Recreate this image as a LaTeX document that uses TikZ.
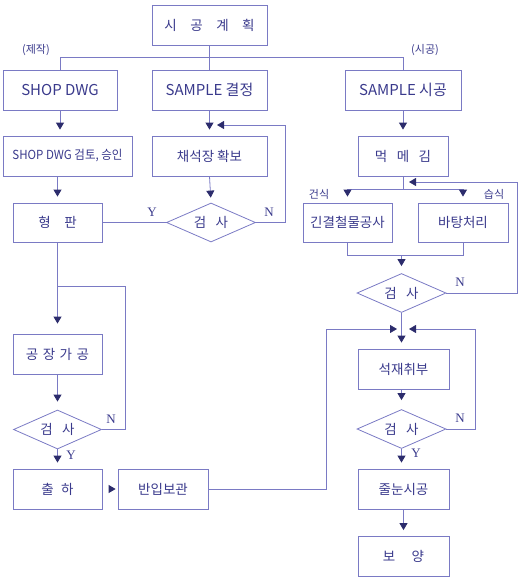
\documentclass[tikz,border=0pt]{standalone}
\usepackage{fontspec}
\setmainfont{Noto Sans CJK KR}
\newfontfamily\ynfont{Liberation Serif}
\usetikzlibrary{arrows.meta,shapes.geometric,calc}
\definecolor{ink}{HTML}{3A3A8C}
\definecolor{linec}{HTML}{7A7AC4}
\definecolor{tipc}{HTML}{2C2C6C}
\newcommand{\gA}{\hspace{0.33em}}
\newcommand{\gB}{\hspace{0.55em}}
\newcommand{\gC}{\hspace{0.7em}}
\newcommand{\gD}{\hspace{1em}}
\newcommand{\gE}{\hspace{1.2em}}
\begin{document}
\begin{tikzpicture}[x=1pt,y=-1pt,
  box/.style={draw=linec, line width=0.8pt, rectangle, inner sep=0pt, text=ink, font=\fontsize{13.5}{15}\selectfont},
  dia/.style={draw=linec, line width=0.8pt, diamond, aspect=2.3, inner sep=0pt, text=ink, font=\fontsize{13.5}{15}\selectfont, minimum width=89pt, minimum height=39pt},
  ln/.style={draw=linec, line width=0.8pt},
  arr/.style={ln, -{Triangle[width=8pt,length=7pt,color=tipc]}, shorten >=6pt},
  arrx/.style={ln, -{Triangle[width=8pt,length=7pt,color=tipc]}},
  lbl/.style={text=ink, font=\ynfont\fontsize{13}{15}\selectfont, inner sep=0pt},
  klbl/.style={text=ink, font=\fontsize{11}{12}\selectfont, inner sep=0pt}]
\useasboundingbox (0,0) rectangle (523,581);
% nodes
\node[box, minimum width=115pt, minimum height=40pt] (plan) at (209.5,25) {시\gD 공\gD 계\gD 획};
\node[box, minimum width=114pt, minimum height=40pt, font=\fontsize{15}{17}\selectfont] (shop) at (60,90) {SHOP DWG};
\node[box, minimum width=115pt, minimum height=40pt, font=\fontsize{15}{17}\selectfont] (samp) at (209.5,90) {SAMPLE 결정};
\node[box, minimum width=116pt, minimum height=40pt, font=\fontsize{15}{17}\selectfont] (sampc) at (403,90) {SAMPLE 시공};
\node[box, minimum width=129pt, minimum height=40pt, font=\fontsize{12.5}{14}\selectfont] (review) at (67.5,156) {\addfontfeatures{FakeStretch=0.92}SHOP DWG 검토, 승인};
\node[box, minimum width=115pt, minimum height=40pt] (quarry) at (209.5,156) {채석장 확보};
\node[box, minimum width=90pt, minimum height=40pt] (mark) at (403,156) {먹\gC 메\gC 김};
\node[box, minimum width=89pt, minimum height=39pt] (mold) at (57.5,222.5) {형\gD 판};
\node[dia] (chk1) at (211,222.5) {검\gC 사};
\node[box, minimum width=89pt, minimum height=39pt] (anchor) at (347.5,222.5) {긴결철물공사};
\node[box, minimum width=90pt, minimum height=39pt] (base) at (463,222.5) {바탕처리};
\node[dia] (chk2) at (401.5,293) {검\gC 사};
\node[box, minimum width=91pt, minimum height=40pt] (fix) at (403.5,369) {석재취부};
\node[dia] (chk3) at (401.5,429) {검\gC 사};
\node[box, minimum width=91pt, minimum height=40pt] (joint) at (403.5,489) {줄눈시공};
\node[box, minimum width=91pt, minimum height=40pt] (cure) at (403.5,556.5) {보\gE 양};
\node[box, minimum width=89pt, minimum height=40pt] (fac) at (57.5,354) {공\gA 장\gA 가\gA 공};
\node[dia, minimum width=88pt] (chk4) at (57.5,429.5) {검\gC 사};
\node[box, minimum width=89pt, minimum height=40pt] (ship) at (57.5,489) {출\gB 하};
\node[box, minimum width=90pt, minimum height=40pt] (store) at (163,489) {반입보관};
% labels
\node[klbl] (lmake) at (36,50) {(제작)};
\node[klbl] (lcons) at (425,50) {(시공)};
\node[klbl] (ldry) at (319,194) {건식};
\node[klbl] (lwet) at (494,194) {습식};
\node[lbl] (y1) at (152,212) {Y};
\node[lbl] (n1) at (269,212) {N};
\node[lbl] (n2) at (460,282) {N};
\node[lbl] (n3) at (460,418) {N};
\node[lbl] (y3) at (416,453) {Y};
\node[lbl] (n4) at (111,419) {N};
\node[lbl] (y4) at (71,455) {Y};
% coordinates
\coordinate (qa) at (217,125);
\coordinate (split) at (403,189);
\coordinate (ma) at (409,182);
\coordinate (fl) at (397,329);
\coordinate (fr) at (409,329);
\coordinate (mj) at (57.5,286);
% connectors
\draw[ln] (plan) -- (samp);
\draw[ln] (shop.north) -- ++(0,-12) -| (sampc.north);
\draw[arr] (shop.south) -- (shop.south |- review.north);
\draw[arr] (samp.south) -- (quarry.north);
\draw[arrx] (chk1.east) -- (285,222.5) |- (qa);
\draw[arr, shorten >=5pt] (quarry.south) -- (chk1.north);
\draw[ln] (chk1.west) -- (mold.east);
\draw[arr] (mold.north |- review.south) -- (mold.north);
\draw[arr, shorten >=10pt] (mold.south) -- (fac.north);
\draw[ln] (chk4.east) -- (125,429.5) |- (mj);
\draw[arr, shorten >=8pt] (fac.south) -- (chk4.north);
\draw[arr] (chk4.south) -- (ship.north);
\draw[arr, shorten <=8pt, shorten >=2pt] (ship.east) -- (store.west);
\draw[arrx] (store.east) -- (326,489) |- (fl);
\draw[arr] (sampc.south) -- (mark.north);
\draw[ln] (mark.south) -- (split);
\draw[arr] (split) -| (anchor.north);
\draw[arr] (split) -| (base.north);
\draw[ln] (anchor.south) -- ++(0,13) -| (base.south);
\draw[arr, shorten >=7pt] (chk2.north |- 0,255.5) -- (chk2.north);
\draw[arrx] (chk2.east) -- (517,293) |- (ma);
\draw[arr, shorten >=6pt] (chk2.south) -- (fix.north -| chk2.south);
\draw[arrx] (chk3.east) -- (475,429) |- (fr);
\draw[arr, shorten >=9pt] (fix.south -| chk3.north) -- (chk3.north);
\draw[arr] (chk3.south) -- (joint.north -| chk3.south);
\draw[arr] (joint.south) -- (cure.north);
\end{tikzpicture}
\end{document}
